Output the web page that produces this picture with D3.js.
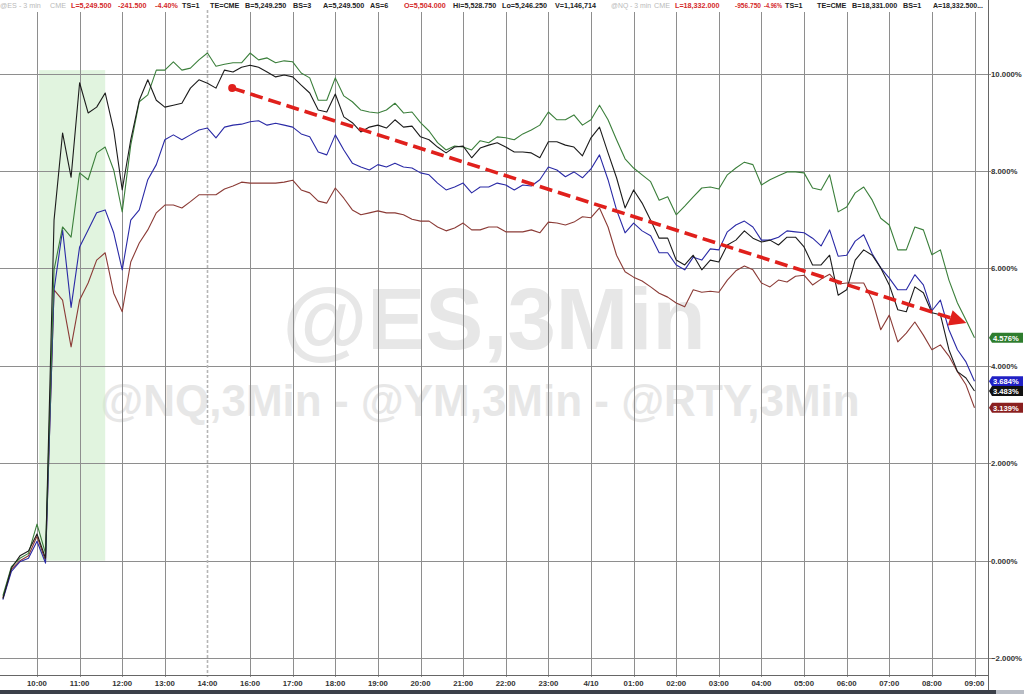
<!DOCTYPE html>
<html><head><meta charset="utf-8">
<script src="https://cdn.jsdelivr.net/npm/d3@7"></script>
<style>
body{margin:0;background:#fff;}
svg{display:block;font-family:"Liberation Sans",Arial,sans-serif;}
</style>
</head><body>
<svg id="c" width="1024" height="694"></svg>
<script>
// ---------- data ----------
const hourLabels = ["10:00","11:00","12:00","13:00","14:00","16:00","17:00","18:00","19:00","20:00","21:00","22:00","23:00","4/10","01:00","02:00","03:00","04:00","05:00","06:00","07:00","08:00","09:00"];
const yTicks = [-2,0,2,4,6,8,10];
const startHour = -0.8, stepHour = 0.2;   // sample grid in hour-slots of the axis

const nqValues = [-0.72,-0.12,0.05,0.15,0.75,0.15,5.97,6.85,6.64,7.96,7.82,8.37,8.49,8.02,7.16,8.53,9.42,9.56,10.07,10.07,10.24,10.07,10.11,10.28,10.42,10.15,10.19,10.22,10.22,10.42,10.28,10.32,10.22,10.26,10.24,10.01,9.91,9.45,9.45,9.91,9.54,9.42,9.25,9.21,9.19,9.25,9.39,9.19,9.21,8.99,8.82,8.58,8.43,8.51,8.49,8.43,8.62,8.58,8.70,8.68,8.64,8.76,8.84,8.94,9.21,9.05,9.05,9.15,8.94,9.05,9.35,9.05,8.64,8.25,8.06,7.92,7.78,7.40,7.47,7.10,7.28,7.47,7.65,7.67,7.63,7.92,8.06,8.18,8.13,7.71,7.82,7.90,7.98,7.98,7.96,7.65,7.61,7.92,7.16,7.26,7.55,7.67,7.40,7.03,6.89,6.38,6.38,6.85,6.79,6.28,6.38,5.76,5.29,4.94,4.576];
const esValues = [-0.78,-0.15,0.10,0.20,0.55,0.05,6.99,8.78,7.87,9.81,9.19,9.31,9.60,8.84,7.61,8.64,9.45,9.87,9.45,9.31,9.35,9.39,9.70,9.87,9.80,9.70,10.07,10.03,10.13,10.17,10.13,10.03,9.93,9.97,9.93,9.76,9.60,9.25,9.21,9.58,9.11,8.99,8.80,8.90,8.94,8.88,9.05,8.90,8.92,8.70,8.64,8.49,8.37,8.49,8.51,8.27,8.47,8.53,8.58,8.49,8.39,8.39,8.37,8.27,8.60,8.60,8.53,8.49,8.31,8.68,8.90,8.37,7.86,7.24,7.61,7.34,6.99,6.62,6.62,6.17,6.07,6.27,5.97,6.17,6.13,6.48,6.58,6.77,6.62,6.54,6.58,6.48,6.64,6.64,6.44,6.07,6.07,6.27,5.45,5.56,6.17,6.38,6.27,6.01,5.66,5.15,5.11,5.62,5.50,5.09,5.05,4.33,3.88,3.75,3.483];
const ymValues = [-0.80,-0.22,-0.02,0.05,0.40,-0.05,5.56,6.79,5.20,6.44,6.79,7.14,7.20,6.73,5.97,6.99,7.20,7.82,8.13,8.64,8.74,8.64,8.74,8.84,8.88,8.68,8.90,8.94,8.96,9.01,9.03,8.94,8.98,8.94,8.90,8.76,8.70,8.39,8.33,8.74,8.43,8.16,8.08,8.02,8.13,8.08,8.16,8.08,8.06,7.96,7.92,7.75,7.61,7.67,7.75,7.55,7.67,7.67,7.75,7.71,7.61,7.71,7.69,7.82,8.08,8.02,7.88,7.98,7.86,8.04,8.33,7.82,7.20,6.73,6.93,6.77,6.67,6.32,6.32,6.07,5.97,6.23,6.17,6.40,6.38,6.75,6.89,6.97,6.85,6.58,6.58,6.64,6.77,6.75,6.73,6.62,6.46,6.79,6.25,6.27,6.56,6.69,6.30,6.01,5.80,5.56,5.56,5.87,5.66,5.13,5.35,4.74,4.33,4.08,3.684];
const rtyValues = [-0.76,-0.18,0.00,0.10,0.50,0.00,5.56,5.35,4.39,5.35,5.70,6.17,6.32,5.49,5.11,6.13,6.52,6.79,7.14,7.30,7.30,7.24,7.37,7.51,7.51,7.51,7.63,7.69,7.77,7.75,7.75,7.75,7.75,7.77,7.81,7.61,7.55,7.38,7.34,7.65,7.44,7.20,7.10,7.14,7.18,7.14,7.14,7.10,7.01,6.97,6.97,6.85,6.77,6.83,6.93,6.79,6.79,6.85,6.85,6.75,6.75,6.75,6.79,6.73,6.95,6.93,6.89,6.95,7.06,7.04,7.24,6.85,6.27,5.93,5.82,5.74,5.62,5.49,5.41,5.29,5.21,5.56,5.51,5.53,5.51,5.76,5.95,6.05,5.97,5.70,5.62,5.76,5.72,5.84,5.86,5.66,5.78,5.88,5.68,5.70,5.70,5.70,5.35,4.74,5.04,4.49,4.67,4.90,4.63,4.33,4.43,4.20,3.88,3.61,3.139];

const lastLabels = ["4.576%","3.684%","3.483%","3.139%"];
const shadeRange = {x0:0.05, x1:1.6, y0:0, y1:10.07};
const trendArrow = {from:[4.58,9.70], to:[21.81,4.88]};

const headerItems = [
  ["@ES - 3 min","g"],["CME","g"],["L=5,249.500","r"],["-241.500","r"],["-4.40%","r"],["TS=1","k"],["TE=CME","k"],
  ["B=5,249.250","k"],["BS=3","k"],["A=5,249.500","k"],["AS=6","k"],["O=5,504.000","r"],["Hi=5,528.750","k"],
  ["Lo=5,246.250","k"],["V=1,146,714","k"],["@NQ - 3 min","g"],["CME","g"],["L=18,332.000","r"],["-956.750","r"],
  ["-4.96%","r"],["TS=1","k"],["TE=CME","k"],["B=18,331.000","k"],["BS=1","k"],["A=18,332.500...","k"]];
const headerX = [0,50,71,118,155,182,210,245,293,323,370,404,453,502,555,611,654,675,735,764,785,817,852,903,933,986];

// ---------- layout ----------
const svg = d3.select("#c");
const W = 1024, H = 694;
const plotTop = 12, axisY = 675, rightX = 988;
const x = d3.scaleLinear().domain([0,22]).range([37,974.5]);
const y = d3.scaleLinear().domain([0,10]).range([560.7,73.5]);

const series = [
  {name:"RTY", values:rtyValues, color:"#8b3b36", box:"#8a1f1f", label:lastLabels[3]},
  {name:"YM",  values:ymValues,  color:"#2a2aa6", box:"#2020c4", label:lastLabels[1]},
  {name:"NQ",  values:nqValues,  color:"#3b7f3b", box:"#2e7d2e", label:lastLabels[0]},
  {name:"ES",  values:esValues,  color:"#1c1c1c", box:"#111111", label:lastLabels[2]}
];

// watermark
svg.append("text").attr("x",494).attr("y",349).attr("text-anchor","middle")
  .attr("font-size",87).attr("font-weight","bold").attr("fill","#e7e7e7").text("@ES,3Min");
svg.append("text").attr("x",480).attr("y",416).attr("text-anchor","middle")
  .attr("font-size",44).attr("font-weight","bold").attr("fill","#e7e7e7").text("@NQ,3Min - @YM,3Min - @RTY,3Min");

// shaded band
svg.append("rect")
  .attr("x",x(shadeRange.x0)).attr("width",x(shadeRange.x1)-x(shadeRange.x0))
  .attr("y",y(shadeRange.y1)).attr("height",y(shadeRange.y0)-y(shadeRange.y1))
  .attr("fill","#c9ebc4").attr("opacity",0.55);

// horizontal grid
svg.append("g").selectAll("line").data(yTicks).join("line")
  .attr("x1",0).attr("x2",rightX+3).attr("y1",d=>Math.round(y(d))+0.5).attr("y2",d=>Math.round(y(d))+0.5)
  .attr("stroke","#8e8e8e").attr("stroke-width",1);

// vertical grid
svg.append("g").selectAll("line").data(hourLabels.map((l,i)=>i)).join("line")
  .attr("x1",d=>Math.round(x(d))+0.5).attr("x2",d=>Math.round(x(d))+0.5)
  .attr("y1",d=> d===4 ? 0 : plotTop).attr("y2",axisY+2)
  .attr("stroke",d=> d===4 ? "#b5b5b5" : "#8e8e8e")
  .attr("stroke-width",d=> d===4 ? 1.6 : 1)
  .attr("stroke-dasharray",d=> d===4 ? "3,2" : null);

// axes lines
svg.append("line").attr("x1",0).attr("x2",rightX).attr("y1",axisY+0.5).attr("y2",axisY+0.5).attr("stroke","#666");
svg.append("line").attr("x1",rightX+0.5).attr("x2",rightX+0.5).attr("y1",0).attr("y2",690).attr("stroke","#666");

// x labels
svg.append("g").selectAll("text").data(hourLabels).join("text")
  .attr("x",(d,i)=>x(i)).attr("y",686).attr("text-anchor","middle")
  .attr("font-size",7.8).attr("font-weight","bold").attr("fill","#333").text(d=>d);

// y labels (right)
svg.append("g").selectAll("text").data(yTicks).join("text")
  .attr("x",rightX+3).attr("y",d=>y(d)+3).attr("font-size",7.8).attr("font-weight","bold").attr("fill","#333")
  .text(d=>d3.format(".3f")(d)+"%");

// lines
const line = d3.line().x((d,i)=>x(startHour+stepHour*i)).y(d=>y(d));
svg.append("g").selectAll("path").data(series).join("path")
  .attr("d",d=>line(d.values)).attr("fill","none").attr("stroke",d=>d.color).attr("stroke-width",1.1)
  .attr("stroke-linejoin","round");

// last value boxes
const lb = svg.append("g");
series.forEach(s=>{
  const v = s.values[s.values.length-1];
  const cy = y(v);
  const g = lb.append("g");
  g.append("path").attr("d",`M${rightX+1},${cy} L${rightX+4},${cy-5} L${rightX+35},${cy-5} L${rightX+35},${cy+5} L${rightX+4},${cy+5} Z`).attr("fill",s.box);
  g.append("text").attr("x",rightX+5).attr("y",cy+3).attr("font-size",7.6).attr("font-weight","bold").attr("fill","#fff").text(s.label);
});

// trend arrow
const [ax0,ay0] = [x(trendArrow.from[0]), y(trendArrow.from[1])];
const [ax1,ay1] = [x(trendArrow.to[0]), y(trendArrow.to[1])];
const ang = Math.atan2(ay1-ay0, ax1-ax0);
const headLen = 17, headW = 8;
const bx = ax1 - headLen*Math.cos(ang), by = ay1 - headLen*Math.sin(ang);
svg.append("line").attr("x1",ax0).attr("y1",ay0).attr("x2",bx).attr("y2",by)
  .attr("stroke","#e0201c").attr("stroke-width",3.6).attr("stroke-dasharray","13,6");
svg.append("circle").attr("cx",ax0).attr("cy",ay0).attr("r",4).attr("fill","#e0201c");
svg.append("path").attr("d",`M${ax1},${ay1} L${bx+headW*Math.sin(ang)},${by-headW*Math.cos(ang)} L${bx-headW*Math.sin(ang)},${by+headW*Math.cos(ang)} Z`).attr("fill","#e0201c");

// header
const hcol = {g:"#b9b9b9", r:"#d42a2a", k:"#222"};
svg.append("rect").attr("x",0).attr("y",0).attr("width",rightX).attr("height",10).attr("fill","#fff");
const ht = svg.append("g").selectAll("text").data(headerItems).join("text")
  .attr("x",(d,i)=>headerX[i]).attr("y",8).attr("font-size",7.2)
  .attr("font-weight",d=>d[1]==="g" ? "normal" : "bold")
  .attr("fill",d=>hcol[d[1]]).text(d=>d[0]);
ht.each(function(d,i){
  const avail = headerX[i+1] - headerX[i] - 3;
  const w = this.getComputedTextLength();
  if (w > avail) d3.select(this).attr("textLength",avail).attr("lengthAdjust","spacingAndGlyphs");
});

// bottom bar
svg.append("rect").attr("x",0).attr("y",690).attr("width",W).attr("height",4).attr("fill","#3b4049");
svg.append("rect").attr("x",996).attr("y",690).attr("width",28).attr("height",4).attr("fill","#b9bdc5");
</script>
</body></html>
